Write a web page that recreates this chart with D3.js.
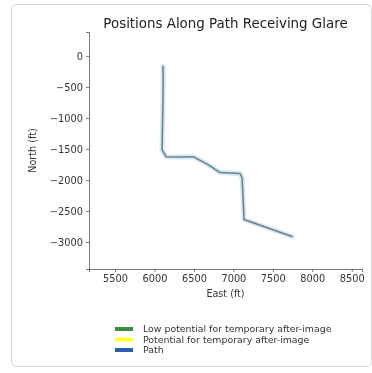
<!DOCTYPE html>
<html><head><meta charset="utf-8">
<script src="https://cdn.jsdelivr.net/npm/d3@7"></script>
<style>body{margin:0;background:#fff;}svg{display:block;font-family:"DejaVu Sans",sans-serif;}</style>
</head><body><div id="chart"></div>
<script>
// Data
const pathEast  = [6108, 6110, 6108, 6096, 6146, 6324, 6489, 6679, 6831, 7084, 7110, 7135, 7743];
const pathNorth = [-170, -354, -691, -1511, -1624, -1630, -1624, -1752, -1881, -1897, -1961, -2637, -2910];
const xTicks = [5500, 6000, 6500, 7000, 7500, 8000, 8500];
const yTicks = [0, -500, -1000, -1500, -2000, -2500, -3000];
const legendLabels = ["Low potential for temporary after-image", "Potential for temporary after-image", "Path"];
const legendColors = ["#3d8a3d", "#ffff33", "#2c5fb0"];

(function(){
const W = 372, H = 373;
const svg = d3.select("#chart").append("svg").attr("width", W).attr("height", H);
const defs = svg.append("defs");
defs.append("filter").attr("id","soft").append("feGaussianBlur").attr("stdDeviation",0.45);

// card
svg.append("rect").attr("x",11.5).attr("y",4.5).attr("width",360).attr("height",362).attr("rx",5)
  .attr("fill","#fff").attr("stroke","#d6d6d6");

const g = svg.append("g").attr("filter","url(#soft)");

const mLeft = 89, mRight = 362, mTop = 32, mBottom = 269;
const x = d3.scaleLinear().domain([5170, 8630]).range([mLeft, mRight]);
const y = d3.scaleLinear().domain([-3435, 385]).range([mBottom, mTop]);

// axes
const xAxis = g.append("g").attr("transform",`translate(0,${mBottom})`)
  .call(d3.axisBottom(x).tickValues(xTicks).tickSize(3).tickPadding(3).tickFormat(d3.format("d")));
const yAxis = g.append("g").attr("transform",`translate(${mLeft},0)`)
  .call(d3.axisLeft(y).tickValues(yTicks).tickSize(3).tickPadding(3).tickFormat(d => d3.format("d")(d).replace("-", "\u2212")));
[xAxis, yAxis].forEach(a => {
  a.selectAll("path").attr("stroke","#555").attr("stroke-width",0.8);
  a.selectAll("line").attr("stroke","#555").attr("stroke-width",0.8);
  a.selectAll("text").attr("fill","#333").style("font-size","9.8px").style("font-family","DejaVu Sans, sans-serif");
});

// path
const pts = pathEast.map((e,i) => [x(e), y(pathNorth[i])]);
const line = d3.line();
g.append("path").attr("d", line(pts)).attr("fill","none").attr("stroke","#d4e8f3").attr("stroke-width",5)
  .attr("stroke-linejoin","round").attr("stroke-linecap","round");
g.append("path").attr("d", line(pts)).attr("fill","none").attr("stroke","#6e7f86").attr("stroke-width",1.5)
  .attr("stroke-linejoin","round").attr("stroke-linecap","round");

// title & labels
g.append("text").attr("x",(mLeft+mRight)/2).attr("y",28).attr("text-anchor","middle")
  .style("font-size","13.4px").attr("fill","#222").text("Positions Along Path Receiving Glare");
g.append("text").attr("x",(mLeft+mRight)/2).attr("y",297).attr("text-anchor","middle")
  .style("font-size","9.6px").attr("fill","#333").text("East (ft)");
g.append("text").attr("transform",`translate(36,${(mTop+mBottom)/2}) rotate(-90)`).attr("text-anchor","middle")
  .style("font-size","9.6px").attr("fill","#333").text("North (ft)");

// legend
const lg = g.append("g");
legendLabels.forEach((lab,i) => {
  const yy = 329 + i*10.5;
  lg.append("rect").attr("x",115).attr("y",yy-2).attr("width",18).attr("height",4).attr("fill",legendColors[i]);
  lg.append("text").attr("x",143).attr("y",yy+3).style("font-size","9.4px").attr("fill","#333").text(lab);
});
})();
</script></body></html>
